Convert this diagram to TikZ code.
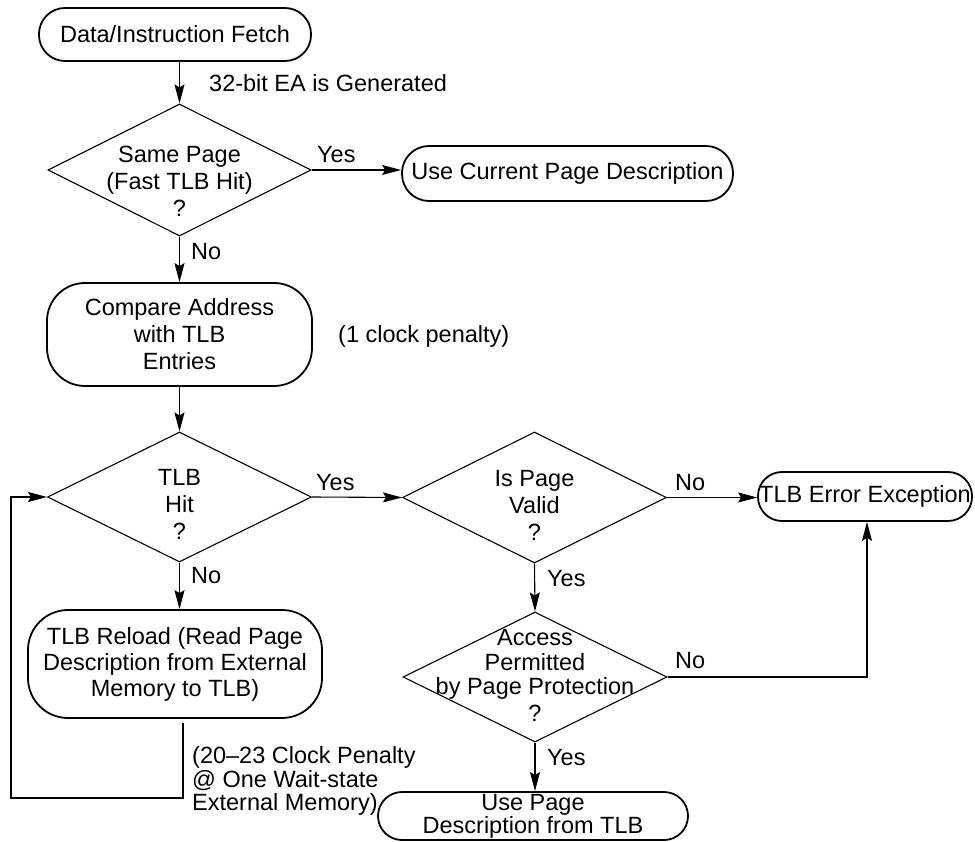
\documentclass[tikz,border=0pt]{standalone}
\usepackage{fontspec}
\setmainfont{Liberation Sans}
\usetikzlibrary{shapes.geometric,arrows.meta}
\begin{document}
\begin{tikzpicture}[x=1pt,y=-1pt,
  font=\fontsize{23.5}{27}\selectfont,
  box/.style={draw,line width=1.8pt,rounded corners=#1,inner sep=0pt,align=center},
  box/.default=26pt,
  dia/.style={draw,shape=diamond,line width=1.1pt,inner sep=0pt,minimum width=264pt,minimum height=131pt},
  txt/.style={inner sep=0pt,align=center},
  lbl/.style={inner sep=0pt,anchor=base west},
  conn/.style={line width=1.1pt},
  arr/.style={line width=1.1pt,-{Stealth[length=19pt,width=10pt,inset=3pt]}}]
\fill[white] (0,0) rectangle (975,842);
\useasboundingbox (0,0) rectangle (975,842);

% process boxes
\node[box=26pt,minimum width=272pt,minimum height=53pt] (fetch) at (175,34.5) {Data/Instruction Fetch};
\node[box=27pt,minimum width=331pt,minimum height=55pt] (usecur) at (567.5,173.5) {Use Current Page Description};
\node[box=38pt,minimum width=265pt,minimum height=103pt] (compare) at (179.5,334.5) {Compare Address\\with TLB\\Entries};
\node[box=40pt,minimum width=294pt,minimum height=108pt] (reload) at (175,664) {TLB Reload (Read Page\\[-1pt]Description from External\\[-1pt]Memory to TLB)};
\node[box=24pt,minimum width=214pt,minimum height=49pt] (tlberr) at (865,496.5) {TLB Error Exception};
\node[box=24pt,minimum width=310pt,minimum height=48pt] (usepage) at (533,816) {Use Page\\[-4pt]Description from TLB};

% decisions
\node[dia,minimum width=263pt,minimum height=132pt] (d1) at (179.5,170) {};
\node[txt] (d1t) at (179.5,181.5) {Same Page\\(Fast TLB Hit)\\?};
\node[dia,minimum height=130pt] (d2) at (179.5,497) {};
\node[txt] (d2t) at (179.5,504.5) {TLB\\Hit\\?};
\node[dia] (d3) at (534.5,497.5) {};
\node[txt] (d3t) at (534.5,505) {Is Page\\Valid\\?};
\node[dia,minimum height=130pt] (d4) at (535,677) {};
\node[txt] (d4t) at (535,675) {Access\\[-2pt]Permitted\\[-3pt]by Page Protection\\?};

% labels
\node[lbl] (l32) at (209,92) {32-bit EA is Generated};
\node[lbl] (y1) at (317,163) {Yes};
\node[lbl] (n1) at (191,260) {No};
\node[lbl] (pen1) at (338,343) {(1 clock penalty)};
\node[lbl] (y2) at (316,490) {Yes};
\node[lbl] (n3) at (675,490) {No};
\node[lbl] (n2) at (191,583) {No};
\node[lbl] (y3) at (547,586) {Yes};
\node[lbl] (n4) at (675,668) {No};
\node[lbl] (y4) at (547,765) {Yes};
\node[inner sep=0pt,anchor=west,align=left,font=\fontsize{23.5}{23.5}\selectfont] (pen2) at (192,781) {(20--23 Clock Penalty\\@ One Wait-state\\External Memory)};

% connectors
\draw[arr] (fetch.south -| d1.north) -- (d1.north);
\draw[arr] (d1.east) -- (d1.east -| usecur.west);
\draw[arr] (d1.south) -- (compare.north -| d1.south);
\draw[arr] (compare.south -| d2.north) -- (d2.north);
\draw[arr] (d2.east) -- (d3.west);
\draw[arr] (d3.east) -- (d3.east -| tlberr.west);
\draw[arr] (d3.south) -- (d4.north);
\draw[arr] (d4.south) -- (usepage.north -| d4.south);
\coordinate (c1) at (867,677);
\draw[arr] (d4.east) -- (c1) -- (c1 |- tlberr.south);
\draw[arr] (d2.south) -- (reload.north -| d2.south);
\coordinate (l1) at (183,723);
\coordinate (l2) at (183,798);
\coordinate (l3) at (11,798);
\coordinate (l4) at (11,497);
\draw[arr] (l1) -- (l2) -- (l3) -- (l4) -- (d2.west);
\end{tikzpicture}
\end{document}
